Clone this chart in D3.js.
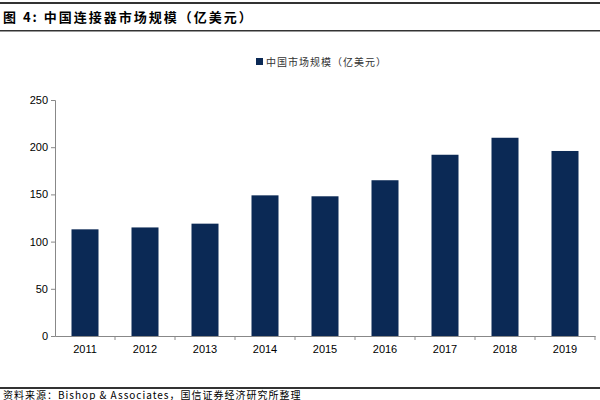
<!DOCTYPE html>
<html><head><meta charset="utf-8">
<script src="https://cdn.jsdelivr.net/npm/d3@7"></script>
<style>body{margin:0;background:#fff}</style>
</head><body>
<svg id="chart" width="600" height="400"></svg>
<script>
const years = ["2011","2012","2013","2014","2015","2016","2017","2018","2019"];
const values = [113, 115, 119, 149, 148, 165, 192, 210, 196];
const yTicks = [0, 50, 100, 150, 200, 250];

const svg = d3.select("#chart");
const font = "'Noto Sans CJK SC', 'Liberation Sans', sans-serif";
const color = "#0b2955";

// frame lines
svg.append("rect").attr("x", 0).attr("y", 2).attr("width", 600).attr("height", 2).attr("fill", "#333");
svg.append("rect").attr("x", 0).attr("y", 30).attr("width", 600).attr("height", 1.5).attr("fill", "#333");
svg.append("rect").attr("x", 0).attr("y", 387).attr("width", 600).attr("height", 2).attr("fill", "#333");

svg.append("text").attr("x", 3).attr("y", 22)
  .style("font-family", font).style("font-size", "13px").style("font-weight", "bold")
  .style("letter-spacing", "2px")
  .text("图 4:  中国连接器市场规模（亿美元）");

svg.append("text").attr("x", 3).attr("y", 399)
  .style("font-family", font).style("font-size", "10px")
  .style("letter-spacing", "1px")
  .text("资料来源：Bishop & Associates，国信证券经济研究所整理");

// legend
svg.append("rect").attr("x", 256).attr("y", 58).attr("width", 7).attr("height", 7).attr("fill", color);
svg.append("text").attr("x", 266).attr("y", 66)
  .style("font-family", font).style("font-size", "10px").attr("fill", "#333")
  .style("letter-spacing", "1px")
  .text("中国市场规模（亿美元）");

const x = d3.scaleBand().domain(years).range([55, 595]).paddingInner(0.55).paddingOuter(0.275);
const y = d3.scaleLinear().domain([0, 250]).range([336, 100]);

svg.selectAll(".bar").data(values).enter().append("rect")
  .attr("x", (d, i) => x(years[i]))
  .attr("y", d => y(d))
  .attr("width", x.bandwidth())
  .attr("height", d => y(0) - y(d))
  .attr("fill", color);

const yAxis = svg.append("g").attr("transform", "translate(55,0)")
  .call(d3.axisLeft(y).tickValues(yTicks).tickSize(4));
const xAxis = svg.append("g").attr("transform", "translate(0,336)")
  .call(d3.axisBottom(x).tickSize(0).tickPadding(9));
[yAxis, xAxis].forEach(g => {
  g.selectAll("path,line").attr("stroke", "#888");
  g.selectAll("text").style("font-family", "'Liberation Sans', Arial, sans-serif")
    .style("font-size", "11px").attr("fill", "#000");
});
xAxis.selectAll(".tick").append("line")
  .attr("x1", x.step() / 2).attr("x2", x.step() / 2).attr("y1", 0).attr("y2", 4).attr("stroke", "#888");
</script>
</body></html>
